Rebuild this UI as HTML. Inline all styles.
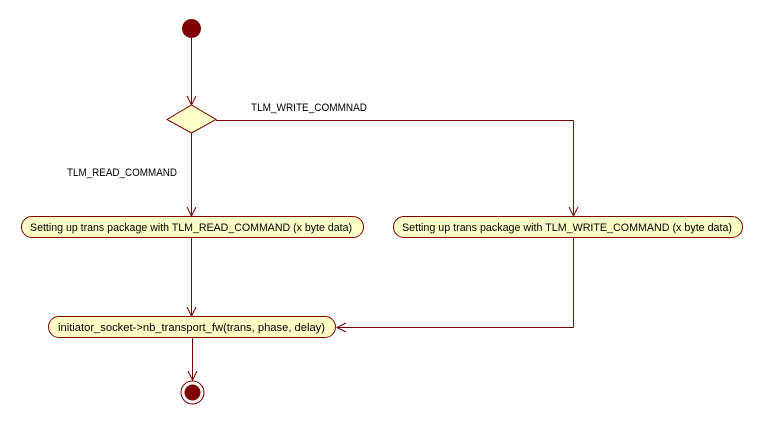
<!DOCTYPE html>
<html><head><meta charset="utf-8"><style>
html,body{margin:0;padding:0;background:#fff;}
svg{display:block;}
text{font-family:"Liberation Sans",sans-serif;font-size:11px;fill:#000;}
</style></head><body>
<svg width="762" height="425" viewBox="0 0 762 425" xmlns="http://www.w3.org/2000/svg">
<g stroke="#800000" stroke-width="1" fill="none">
<line x1="191.5" y1="38" x2="191.5" y2="105"/>
<polyline points="187,96 191.5,105 196,96"/>
<line x1="191.5" y1="133" x2="191.5" y2="216"/>
<polyline points="187,207 191.5,216 196,207"/>
<polyline points="216,120.5 573.5,120.5 573.5,216"/>
<polyline points="569,207 573.5,216 578,207"/>
<line x1="191.5" y1="238" x2="191.5" y2="316"/>
<polyline points="187,307 191.5,316 196,307"/>
<polyline points="573.5,238 573.5,327.5 337,327.5"/>
<polyline points="346,323 337,327.5 346,332"/>
<line x1="192.5" y1="338" x2="192.5" y2="380"/>
<polyline points="188,371 192.5,380 197,371"/>
</g>
<circle cx="191.5" cy="28.5" r="9.5" fill="#800000"/>
<polygon points="167,119.5 191.5,105 216,119.5 191.5,133" fill="#ffffc8" stroke="#800000"/>
<rect x="21.5" y="216.5" width="342" height="21" rx="10.5" fill="#ffffc8" stroke="#800000"/>
<text x="30" y="231" textLength="322" lengthAdjust="spacingAndGlyphs">Setting up trans package with TLM_READ_COMMAND (x byte data)</text>
<rect x="393.5" y="216.5" width="349" height="21" rx="10.5" fill="#ffffc8" stroke="#800000"/>
<text x="402" y="231" textLength="330" lengthAdjust="spacingAndGlyphs">Setting up trans package with TLM_WRITE_COMMAND (x byte data)</text>
<rect x="48.5" y="316.5" width="287" height="21" rx="10.5" fill="#ffffc8" stroke="#800000"/>
<text x="58" y="331" textLength="267" lengthAdjust="spacingAndGlyphs">initiator_socket-&gt;nb_transport_fw(trans, phase, delay)</text>
<circle cx="192.5" cy="392.5" r="11.5" fill="#fff" stroke="#800000"/>
<circle cx="192.5" cy="392.5" r="8" fill="#800000"/>
<text x="251" y="111" textLength="116" lengthAdjust="spacingAndGlyphs">TLM_WRITE_COMMNAD</text>
<text x="67" y="176" textLength="110" lengthAdjust="spacingAndGlyphs">TLM_READ_COMMAND</text>
</svg>
</body></html>
